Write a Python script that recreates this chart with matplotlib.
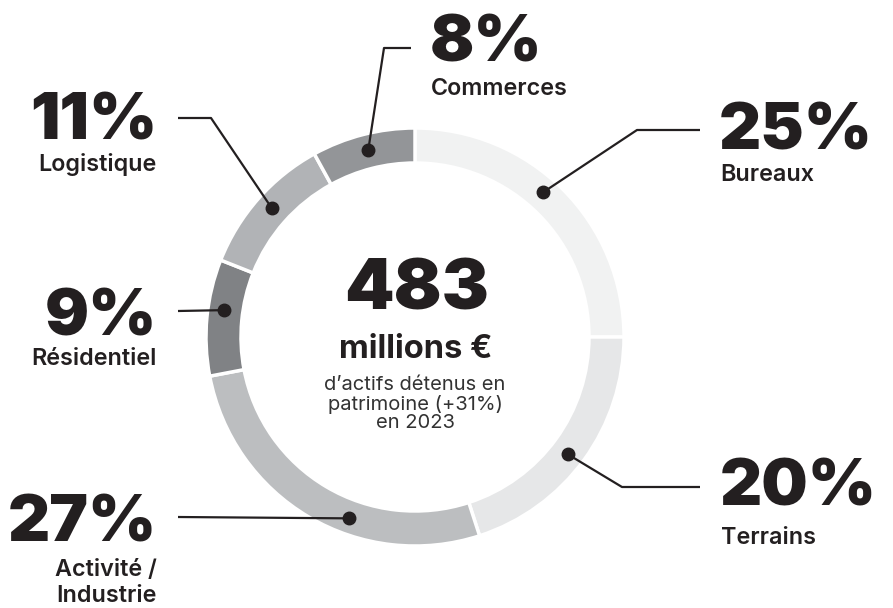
import numpy as np
import matplotlib.pyplot as plt

# data
categories = ['Bureaux', 'Terrains', 'Activité /\nIndustrie', 'Résidentiel', 'Logistique', 'Commerces']
shares = [25, 20, 27, 9, 11, 8]
colors = ['#f1f2f2', '#e6e7e8', '#bcbec0', '#808285', '#b1b3b6', '#939598']
total = 483
growth = 31
year = 2023

# layout (pixel coords, y down)
cx, cy = 415, 337
r_out, ring = 209, 35
r_dot = 193
dot_angle = [48.5, -37.5, -110, 172, 138, 104]
elbows = [[(637, 130), (700, 130)],
          [(622, 487), (700, 487)],
          [(178, 517)],
          [(178, 311)],
          [(211, 118), (178, 118)],
          [(384, 48), (411, 48)]]
pct_pos = [(719, 150, 'left'), (720, 506, 'left'), (157, 542, 'right'),
           (157, 336, 'right'), (157, 139, 'right'), (430, 62, 'left')]
lab_pos = [(720, 175), (721, 538), (157, 583), (157, 359), (157, 164), (431, 89)]

ink = '#231f20'
fam = ['Inter', 'DejaVu Sans']

fig = plt.figure(figsize=(8.93, 6.08), dpi=100)
ax = fig.add_axes([0, 0, 1, 1])
ax.pie(shares, colors=colors, startangle=-90, counterclock=True,
       center=(cx, cy), radius=r_out,
       wedgeprops=dict(width=ring, edgecolor='white', linewidth=2.5))
ax.set_xlim(0, 893)
ax.set_ylim(608, 0)
ax.set_aspect('equal')
ax.axis('off')

for i, cat in enumerate(categories):
    a = np.radians(dot_angle[i])
    dx = cx + r_dot * np.cos(a)
    dy = cy - r_dot * np.sin(a)
    pts = [(dx, dy)] + elbows[i]
    xs = [p[0] for p in pts]
    ys = [p[1] for p in pts]
    ax.plot(xs, ys, color=ink, lw=1.6, solid_capstyle='butt')
    ax.plot(dx, dy, 'o', color=ink, ms=9)

    px, py, ha = pct_pos[i]
    ax.text(px, py, f'{shares[i]}%', ha=ha, va='baseline', fontsize=47,
            fontweight='black', color=ink, family=fam)
    lx, ly = lab_pos[i]
    ax.text(lx, ly, cat, ha=ha, va='center', fontsize=16.8,
            fontweight='semibold', color=ink, family=fam, linespacing=1.2)

ax.text(cx + 2, 309, str(total), ha='center', va='baseline', fontsize=51,
        fontweight='black', color=ink, family=fam)
ax.text(cx + 1, 350, 'millions €', ha='center', va='center', fontsize=23.5,
        fontweight='bold', color=ink, family=fam)
ax.text(cx, 404, f'd’actifs détenus en\npatrimoine (+{growth}%)\nen {year}',
        ha='center', va='center', fontsize=14.5, color='#333333',
        family=fam, linespacing=1.0)

fig.savefig('out.png', dpi=100)
